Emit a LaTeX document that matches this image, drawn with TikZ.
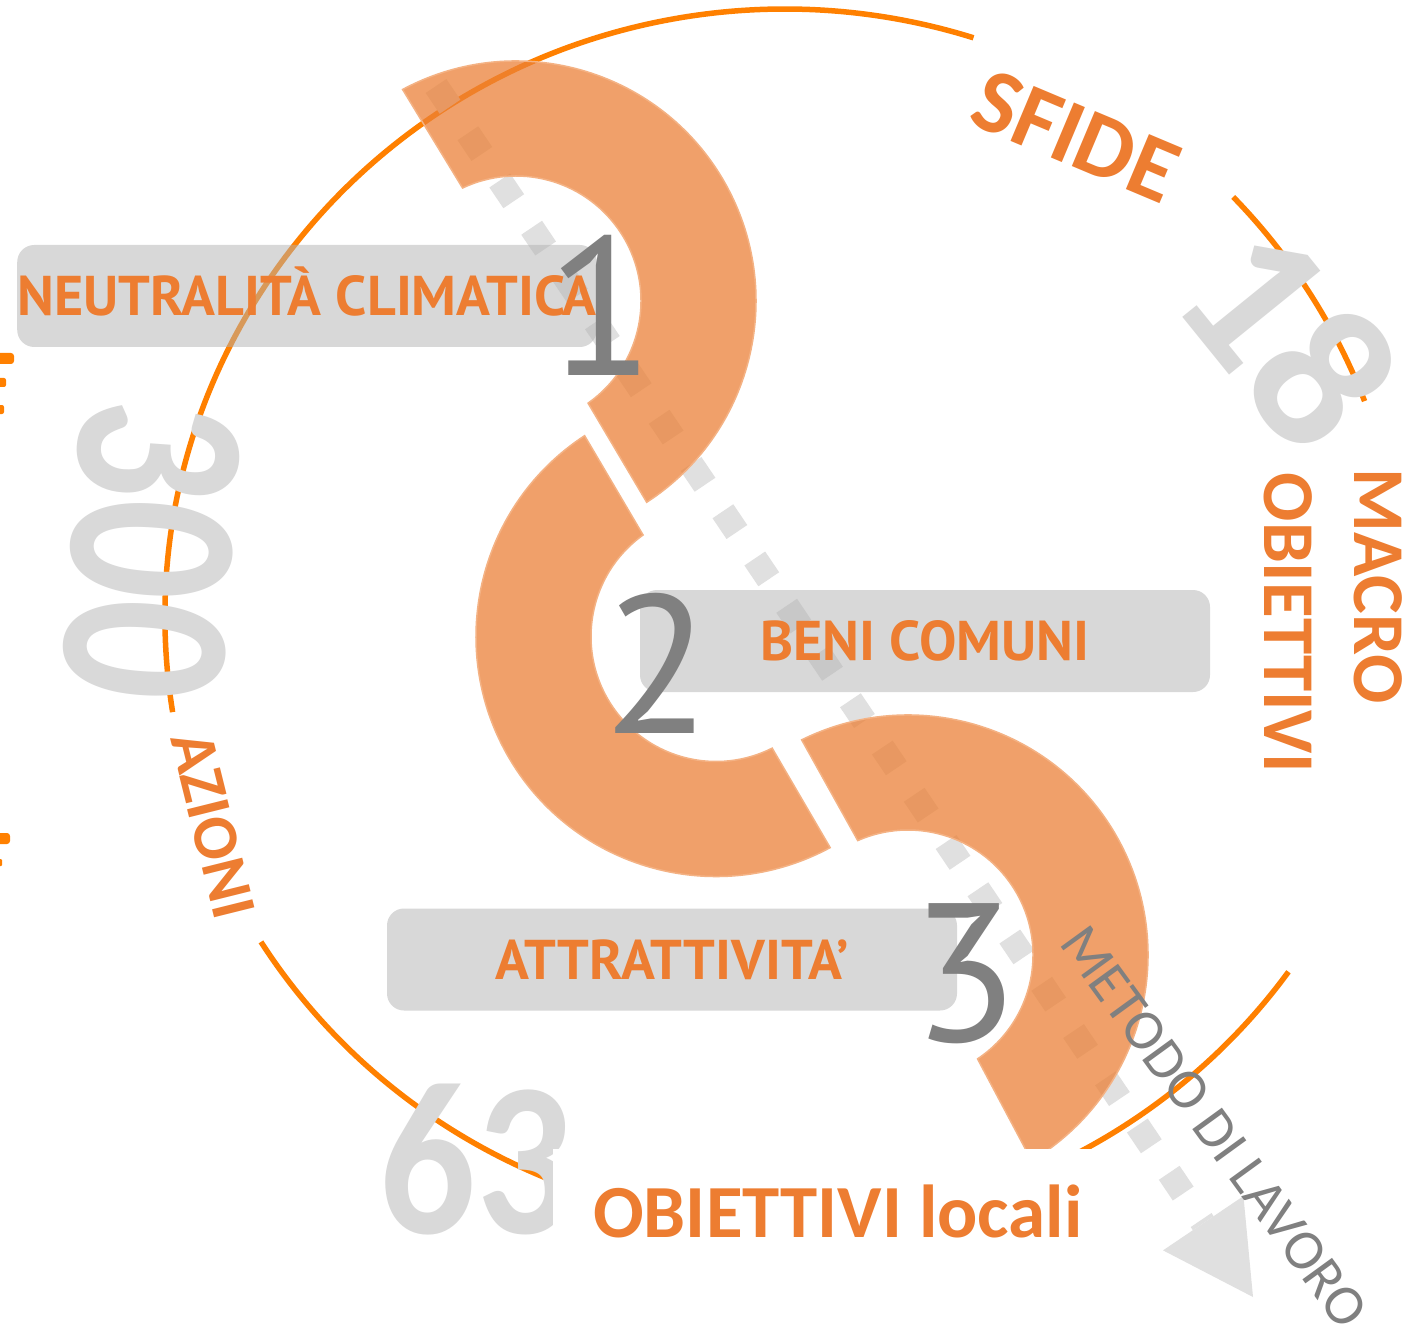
\documentclass[tikz,border=0pt]{standalone}
\usepackage{fontspec}
\setmainfont{Carlito}
\newfontfamily\labelfont{PT Sans}
\newfontfamily\labelboldfont{PT Sans Bold}
\usetikzlibrary{arrows.meta}

\definecolor{lineorange}{RGB}{255,128,0}
\definecolor{textorange}{RGB}{237,125,49}
\definecolor{ringorange}{RGB}{235,128,54}
\definecolor{ringedge}{RGB}{244,178,132}
\definecolor{digitgray}{RGB}{128,128,128}
\definecolor{numgray}{RGB}{217,217,217}
\definecolor{dotgray}{RGB}{224,224,224}

\tikzset{
  outerline/.style={lineorange, line width=5.5pt},
  dotpath/.style={dotgray, line width=25pt, dash pattern=on 25pt off 32pt,
    -{Triangle[length=89pt, width=97pt, line width=0pt]}},
  labelbox/.style={fill=black!30, fill opacity=0.5, text opacity=1,
    rounded corners=17pt, minimum width=570pt, minimum height=102pt,
    inner xsep=0pt, text=textorange, text height=39pt, text depth=0pt,
    font=\labelboldfont\fontsize{56}{56}\selectfont},
  ringpart/.style={fill=ringorange, fill opacity=0.74, draw=ringedge, line width=1.5pt},
  digitnum/.style={text=digitgray, inner sep=0pt,
    font=\labelfont\fontsize{197}{197}\selectfont},
  counter/.style={text=numgray, inner sep=0pt,
    font=\bfseries\fontsize{#1}{#1}\selectfont},
  titletext/.style={text=textorange, inner sep=0pt,
    font=\bfseries\fontsize{#1}{#1}\selectfont}
}

\begin{document}
\begin{tikzpicture}[x=1pt, y=-1pt]

  % Canvas
  \useasboundingbox (0,0) rectangle (1416,1329);
  \fill[white] (0,0) rectangle (1416,1329);

  % Outer ring, broken where the titles sit
  \begin{scope}[shift={(785,617)}]
    \draw[outerline] (171:620 and 608) arc[start angle=171, end angle=287.7, x radius=620, y radius=608];
    \draw[outerline] (316.3:620 and 608) arc[start angle=316.3, end angle=339.2, x radius=620, y radius=608];
    \draw[outerline] (35.7:620 and 608) arc[start angle=35.7, end angle=75, x radius=620, y radius=608];
    \draw[outerline] (100:620 and 608) arc[start angle=100, end angle=147.7, x radius=620, y radius=608];
  \end{scope}

  % Work path
  \coordinate (pathstart) at (436,86);
  \coordinate (pathtip) at (1253,1297);
  \draw[dotpath] (pathstart) -- (pathtip);

  % Labels
  \node[labelbox] (neutral) at (307,296) {NEUTRALITÀ CLIMATICA};
  \node[labelbox] (beni) at (925,641) {BENI COMUNI};
  \node[labelbox] (attr) at (672,959.5) {ATTRATTIVITA’};

  % Ring pieces
  \begin{scope}[shift={(516,301)}]
    \path[ringpart] (-118.2:240) arc[start angle=-118.2, end angle=57, radius=240]
      -- (54.8:125) arc[start angle=54.8, end angle=-115.3, radius=125] -- cycle;
  \end{scope}
  \begin{scope}[shift={(716,636.5)}]
    \path[ringpart] (61.6:240) arc[start angle=61.6, end angle=236.8, radius=240]
      -- (234.3:125) arc[start angle=234.3, end angle=63.3, radius=125] -- cycle;
  \end{scope}
  \begin{scope}[shift={(908,955)}]
    \path[ringpart] (-116.3:240) arc[start angle=-116.3, end angle=59, radius=240]
      -- (56.2:125) arc[start angle=56.2, end angle=-113.7, radius=125] -- cycle;
  \end{scope}

  % Step numbers
  \node[digitnum] (one) at (601,305.5) {1};
  \node[digitnum] (two) at (657.5,663) {2};
  \node[digitnum] (three) at (965.5,974) {3};

  % Counters
  \node[counter=210, rotate=-51] (eighteen) at (1290.5,336) {18};
  \node[counter=246, rotate=-94, xscale=0.8] (threehundred) at (152,550) {300};
  \node[counter=219, xscale=0.87] (sixtythree) at (476.5,1160) {63};

  % Titles
  \node[titletext=92, rotate=-22.8] (sfide) at (1076,136) {SFIDE};
  \node[titletext=73, rotate=-90] (macro) at (1378,586.5) {MACRO};
  \node[titletext=73, rotate=-90] (obiettivi) at (1288.5,623) {OBIETTIVI};
  \node[titletext=64, rotate=-76] (azioni) at (213,825) {AZIONI};
  \node[titletext=75, fill=white, anchor=base west, inner xsep=40pt, inner ysep=35pt]
    (locali) at (553,1237) {OBIETTIVI locali};

  % Path caption
  \node[text=digitgray, inner sep=0pt, rotate=-54, font=\fontsize{57}{57}\selectfont]
    (metodo) at (1214,1127) {METODO DI LAVORO};

  % Cut-off marks on the left edge
  \fill[lineorange, rounded corners=3pt] (-10,353) rectangle (14,364);
  \fill[lineorange, rounded corners=2pt] (-10,378) rectangle (6,387);
  \fill[lineorange, rounded corners=2pt] (-10,405) rectangle (4,414);
  \fill[lineorange, rounded corners=3pt] (-10,833) rectangle (10,844);
  \fill[lineorange, rounded corners=1pt] (-10,859) rectangle (2,866);

\end{tikzpicture}
\end{document}
